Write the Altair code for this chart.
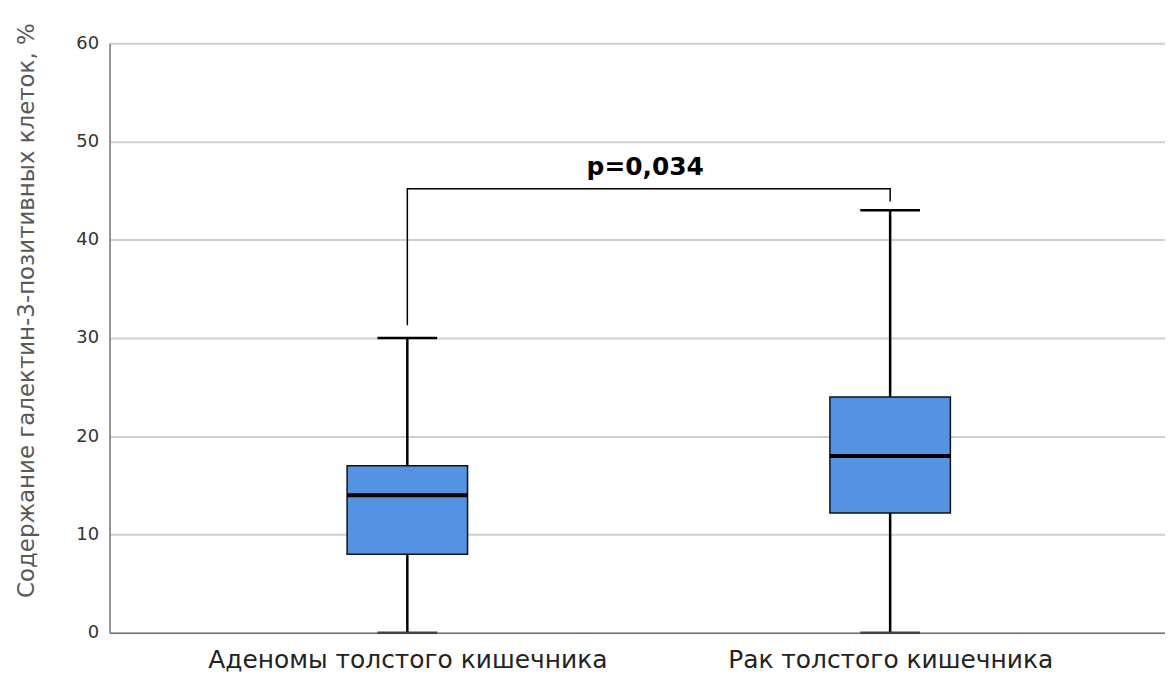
import altair as alt
import pandas as pd

groups = ["Аденомы толстого кишечника", "Рак толстого кишечника"]
mins = [0, 0]
q1s = [8, 12.2]
medians = [14, 18]
q3s = [17, 24]
maxs = [30, 43]

bracket_groups = [groups[0], groups[0], groups[1], groups[1]]
bracket_vals = [31.3, 45.2, 45.2, 43.9]
bracket_order = [0, 1, 2, 3]
p_text = "p=0,034"
y_title = "Содержание галектин-3-позитивных клеток, %"

df = pd.DataFrame({"g": groups, "mn": mins, "q1": q1s, "med": medians, "q3": q3s, "mx": maxs})
br = pd.DataFrame({"g": bracket_groups, "v": bracket_vals, "o": bracket_order})

xscale = alt.Scale(type="point", domain=groups, padding=0.593, align=0.52)
yscale = alt.Scale(domain=[0, 60], nice=False, zero=True)

xenc = alt.X("g:N", scale=xscale, sort=groups, axis=alt.Axis(title=None, labelAngle=0))

base = alt.Chart(df)

whisk = base.mark_rule(color="black", strokeWidth=2.5).encode(
    x=xenc,
    y=alt.Y("mn:Q", scale=yscale,
            axis=alt.Axis(title=y_title, values=[0, 10, 20, 30, 40, 50, 60])),
    y2="mx:Q",
)

box = base.mark_bar(size=121, color="#5493E1", stroke="#111111", strokeWidth=1.5,
                    opacity=1).encode(
    x=alt.X("g:N", scale=xscale, sort=groups), y=alt.Y("q1:Q", scale=yscale), y2="q3:Q"
)

med = base.mark_tick(size=121, thickness=4, color="black", opacity=1).encode(
    x=alt.X("g:N", scale=xscale, sort=groups), y=alt.Y("med:Q", scale=yscale)
)

capt = base.mark_tick(size=60, thickness=2.5, color="black", opacity=1).encode(
    x=alt.X("g:N", scale=xscale, sort=groups), y=alt.Y("mx:Q", scale=yscale)
)
capb = base.mark_tick(size=60, thickness=2.5, color="#444444", opacity=1).encode(
    x=alt.X("g:N", scale=xscale, sort=groups), y=alt.Y("mn:Q", scale=yscale)
)

bracket = alt.Chart(br).mark_line(color="black", strokeWidth=1.5).encode(
    x=alt.X("g:N", scale=xscale, sort=groups), y=alt.Y("v:Q", scale=yscale), order="o:Q"
)

txt = alt.Chart(pd.DataFrame({"t": [p_text]})).mark_text(
    fontSize=25, fontWeight="bold", font="DejaVu Sans", color="black", baseline="middle"
).encode(x=alt.value(538), y=alt.datum(47.4), text="t:N")

chart = alt.layer(whisk, box, med, capt, capb, bracket, txt).properties(
    width=1060, height=592,
    autosize=alt.AutoSizeParams(type="none"),
    padding={"left": 102, "top": 34, "right": 0, "bottom": 41},
).configure_view(stroke=None).configure(background="white").configure_axisY(
    ticks=False, labelFontSize=18, labelColor="#333333", labelFont="DejaVu Sans",
    labelPadding=11, titleFontSize=23, titleFont="DejaVu Sans",
    titleFontWeight="normal", titleColor="#595959",
    titleX=-83, titleY=268, titleBaseline="middle", titleAlign="center", titleAngle=270,
    gridColor="#CFCFCF", gridWidth=2, domainColor="#777777", domainWidth=1.5,
).configure_axisX(
    labelFontSize=25, labelColor="#222222", labelFont="DejaVu Sans", labelPadding=15,
    ticks=False, domainColor="#777777", domainWidth=1.5, grid=False, labelLimit=600,
)

chart.save("out.html", embed_options={"renderer": "svg", "actions": False})
